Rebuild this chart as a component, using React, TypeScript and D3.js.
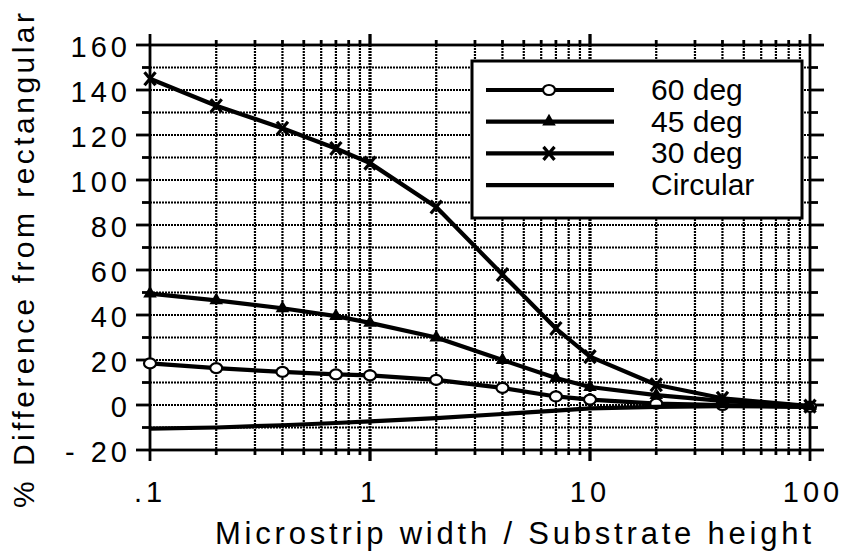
import React from 'react';
import * as d3 from 'd3';

// x positions (w/h) shared by every series
const widths = [0.1, 0.2, 0.4, 0.7, 1, 2, 4, 7, 10, 20, 40, 100];

// % difference from rectangular
const deg60 = [18.5, 16.4, 14.7, 13.6, 13.2, 11.2, 7.6, 3.8, 2.4, 0.6, 0, -0.8];
const deg45 = [49.5, 46.5, 43, 39.5, 36.5, 30, 20, 12, 8, 4.4, 1.8, -0.5];
const deg30 = [145, 133, 123, 114, 107.5, 88, 58, 34, 21.5, 9, 3, -0.5];
const circular = [-10.5, -10, -9, -8, -7.3, -5.8, -4, -2.5, -1.5, -0.8, -0.5, -0.8];

const yTicks = [-20, 0, 20, 40, 60, 80, 100, 120, 140, 160];
const xTicks = [0.1, 1, 10, 100];
const xTickLabels = ['.1', '1', '10', '100'];

const legendItems = [
  { label: '60 deg', marker: 'circle' },
  { label: '45 deg', marker: 'triangle' },
  { label: '30 deg', marker: 'cross' },
  { label: 'Circular', marker: 'none' },
];

const W = 848;
const H = 559;
const FONT = '"Liberation Sans", Arial, Helvetica, sans-serif';

const x = d3.scaleLog().domain([0.1, 100]).range([150, 810]);
const y = d3.scaleLinear().domain([-20, 160]).range([450, 45]);

// log minor grid positions inside the plot
const xGrid: number[] = [];
[0.1, 1, 10].forEach((dec) => {
  for (let k = 2; k <= 10; k++) {
    const v = dec * k;
    if (v < 100) xGrid.push(v);
  }
});
const yGrid = d3.range(-10, 160, 10);

const line = d3
  .line<number>()
  .x((_, i) => x(widths[i]))
  .y((d) => y(d));

const Marker = ({ type, cx, cy }: { type: string; cx: number; cy: number }) => {
  if (type === 'circle')
    return <ellipse cx={cx} cy={cy} rx={6} ry={5} fill="#fff" stroke="#000" strokeWidth={2.2} />;
  if (type === 'triangle')
    return <path d={d3.symbol(d3.symbolTriangle, 80)()!} transform={`translate(${cx},${cy})`} fill="#000" />;
  if (type === 'cross')
    return (
      <path
        d={`M${cx - 5.5},${cy - 6.5}L${cx + 5.5},${cy + 6.5}M${cx + 5.5},${cy - 6.5}L${cx - 5.5},${cy + 6.5}`}
        stroke="#000"
        strokeWidth={3.2}
      />
    );
  return null;
};

const series = [
  { values: deg60, marker: 'circle' },
  { values: deg45, marker: 'triangle' },
  { values: deg30, marker: 'cross' },
  { values: circular, marker: 'none' },
];

export default function App() {
  const left = x.range()[0];
  const right = x.range()[1];
  const top = y.range()[1];
  const bottom = y.range()[0];
  const legend = { x: 472, y: 61, w: 330, h: 157 };

  return (
    <svg
      width={W}
      height={H}
      style={{ position: 'absolute', left: 0, top: 0, background: '#fff' }}
      fontFamily={FONT}
    >
      {/* grid */}
      <g stroke="#000" fill="none">
        {xGrid.map((v) => (
          <line
            key={'gx' + v}
            x1={x(v)}
            x2={x(v)}
            y1={top}
            y2={bottom}
            strokeWidth={v === 1 || v === 10 ? 3.2 : 2.2}
            strokeDasharray="2 1"
          />
        ))}
        {yGrid.map((v) => (
          <line
            key={'gy' + v}
            x1={left}
            x2={right}
            y1={y(v)}
            y2={y(v)}
            strokeWidth={2.2}
            strokeDasharray="2 1"
          />
        ))}
      </g>

      {/* frame + ticks */}
      <g stroke="#000" strokeWidth={2.8}>
        <rect x={left} y={top} width={right - left} height={bottom - top} fill="none" />
        {xGrid.concat(xTicks).map((v) => {
          const len = xTicks.includes(v) ? 11 : 5;
          return (
            <g key={'tx' + v}>
              <line x1={x(v)} x2={x(v)} y1={top} y2={top - len} />
              <line x1={x(v)} x2={x(v)} y1={bottom} y2={bottom + len} />
            </g>
          );
        })}
        {d3.range(-20, 170, 10).map((v) => {
          const len = v % 20 === 0 ? 14 : 8;
          return (
            <g key={'ty' + v}>
              <line x1={left} x2={left - len} y1={y(v)} y2={y(v)} />
              <line x1={right} x2={right + len} y1={y(v)} y2={y(v)} />
            </g>
          );
        })}
      </g>

      {/* series */}
      {series.map((s, si) => (
        <g key={'s' + si}>
          <path d={line(s.values)!} fill="none" stroke="#000" strokeWidth={4.2} strokeLinejoin="round" />
          {s.values.map((v, i) => (
            <Marker key={i} type={s.marker} cx={x(widths[i])} cy={y(v)} />
          ))}
        </g>
      ))}

      {/* tick labels */}
      <g fontSize={29} fill="#000">
        {yTicks.map((v) => (
          <text key={'ly' + v} x={131} y={y(v) + 12} textAnchor="end" letterSpacing={4}>
            {v < 0 ? '- ' + Math.abs(v) : String(v)}
          </text>
        ))}
        {xTicks.map((v, i) => (
          <text key={'lx' + v} x={x(v) + (i === 3 ? 3 : 0)} y={502} textAnchor="middle" letterSpacing={4}>
            {xTickLabels[i]}
          </text>
        ))}
      </g>

      {/* axis titles */}
      <text x={215} y={544} fontSize={31} textLength={596} lengthAdjust="spacing">
        Microstrip width / Substrate height
      </text>
      <text
        transform="translate(34,508) rotate(-90)"
        x={0}
        y={0}
        fontSize={30}
        textLength={495}
        lengthAdjust="spacing"
      >
        % Difference from rectangular
      </text>

      {/* legend */}
      <g>
        <rect x={legend.x} y={legend.y} width={legend.w} height={legend.h} fill="#fff" stroke="#000" strokeWidth={3} />
        {legendItems.map((it, i) => {
          const ly = 90 + i * 31.7;
          return (
            <g key={it.label}>
              <line x1={486} x2={614} y1={ly} y2={ly} stroke="#000" strokeWidth={4.2} />
              <Marker type={it.marker} cx={549} cy={ly} />
              <text x={651} y={ly + 10} fontSize={30}>
                {it.label}
              </text>
            </g>
          );
        })}
      </g>
    </svg>
  );
}
